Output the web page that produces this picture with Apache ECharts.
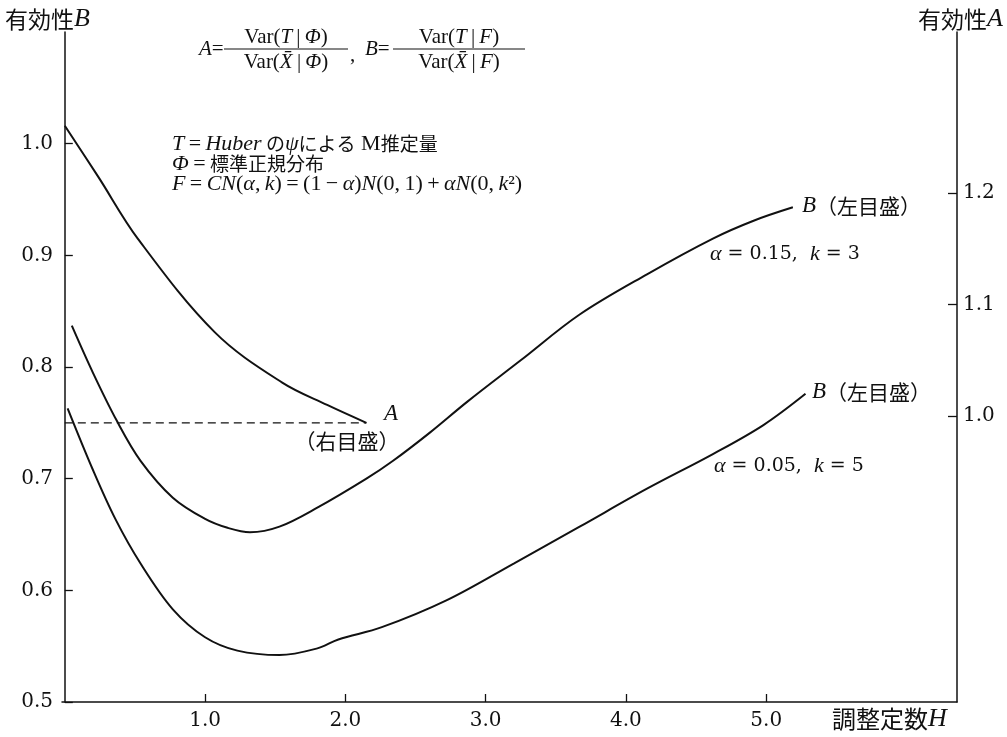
<!DOCTYPE html>
<html><head><meta charset="utf-8">
<script src="https://cdn.jsdelivr.net/npm/echarts@6/dist/echarts.min.js"></script>
<style>html,body{margin:0;padding:0;background:#fff}#c{width:1007px;height:737px}</style>
</head><body><div id="c"></div>
<script>
// ---- data ----
// Efficiency A (right scale): Huber M-estimator vs mean under standard normal
const hA   = [0, 0.24, 0.52, 1.07, 1.55, 1.87, 2.15];
const effA = [1.260, 1.214, 1.159, 1.075, 1.030, 1.010, 0.994];
// Efficiency B (left scale), alpha = 0.15, k = 3
const hB15   = [0.05, 0.20, 0.37, 0.54, 0.77, 1.0, 1.16, 1.32, 1.53, 1.80, 2.15, 2.34, 2.60, 2.87, 3.25, 3.67, 4.15, 4.62, 4.91, 5.19];
const effB15 = [0.837, 0.795, 0.752, 0.716, 0.683, 0.664, 0.656, 0.652, 0.657, 0.674, 0.700, 0.716, 0.741, 0.769, 0.806, 0.847, 0.883, 0.915, 0.931, 0.943];
// Efficiency B (left scale), alpha = 0.05, k = 5
const hB05   = [0.02, 0.20, 0.36, 0.54, 0.77, 1.0, 1.23, 1.53, 1.80, 1.95, 2.26, 2.72, 3.20, 3.67, 4.15, 4.62, 4.98, 5.28];
const effB05 = [0.763, 0.708, 0.664, 0.624, 0.583, 0.558, 0.546, 0.542, 0.548, 0.556, 0.567, 0.591, 0.624, 0.657, 0.691, 0.722, 0.748, 0.776];
// dashed reference line (left scale)
const refH = [0, 2.15];
const refB = [0.75, 0.75];
// tick labels
const xTicks = [1, 2, 3, 4, 5];
const leftTicks = [0.5, 0.6, 0.7, 0.8, 0.9, 1.0];
const rightTicks = [1.0, 1.1, 1.2];

const zip = (a, b) => a.map((v, i) => [v, b[i]]);
const SERIF = "'Liberation Serif','DejaVu Serif','Noto Sans CJK JP',serif";
const NUM = "'DejaVu Serif','Liberation Serif',serif";
const CJK = "'Noto Sans CJK JP','Liberation Serif',serif";
const INK = '#111';

const chart = echarts.init(document.getElementById('c'), null, {renderer: 'canvas'});

const axisLine = {show: true, lineStyle: {color: INK, width: 1.5}};
const tickStyle = {color: INK, width: 1.3};
const lbl = {color: INK, fontFamily: NUM, fontSize: 20};

function lineSeries(name, h, v, yIdx, extra) {
  return Object.assign({
    name, type: 'line', yAxisIndex: yIdx, data: zip(h, v),
    showSymbol: false, symbol: 'none', smooth: 0.35, silent: true,
    lineStyle: {color: INK, width: 2}
  }, extra || {});
}

function t(x, y, text, align) {
  return {type: 'text', x, y, style: {
    rich: R, text, align: align || 'left', verticalAlign: 'middle',
    fontFamily: SERIF, fontSize: 20, fill: INK
  }};
}
const st = (fam, size, italic) => ({fontFamily: fam, fontSize: size, fontStyle: italic ? 'italic' : 'normal', color: INK});
const R = {
  // definitions block
  i: st(SERIF, 22, true), n: st(SERIF, 22), c: st(CJK, 19),
  // formula
  fi: st(SERIF, 21, true), fn: st(SERIF, 21),
  // curve labels
  li: st(SERIF, 23, true), lc: st(CJK, 21),
  // alpha labels
  ai: st(SERIF, 22, true), an: st(NUM, 19),
  // axis titles
  big: st(CJK, 23), bi: st(SERIF, 26, true),
  xbig: st(CJK, 24), xi: st(SERIF, 26, true)
};

const graphics = [
  t(5, 19, '{big|有効性}{bi|B}'),
  t(1003, 19, '{big|有効性}{bi|A}', 'right'),
  // formula A = Var(T|Φ)/Var(X̄|Φ), B = Var(T|F)/Var(X̄|F)
  t(199, 49, '{fi|A}{fn|=}'),
  t(286, 37, '{fn|Var(}{fi|T}{fn|\u2009|\u2009}{fi|Φ}{fn|)}', 'center'),
  {type: 'line', shape: {x1: 224, y1: 49, x2: 348, y2: 49}, style: {stroke: INK, lineWidth: 1.2}},
  t(286, 62, '{fn|Var(}{fi|X\u0304}{fn|\u2009|\u2009}{fi|Φ}{fn|)}', 'center'),
  t(350, 55, '{fn|,}'),
  t(365, 49, '{fi|B}{fn|=}'),
  t(459, 37, '{fn|Var(}{fi|T}{fn|\u2009|\u2009}{fi|F}{fn|)}', 'center'),
  {type: 'line', shape: {x1: 393, y1: 49, x2: 525, y2: 49}, style: {stroke: INK, lineWidth: 1.2}},
  t(459, 62, '{fn|Var(}{fi|X\u0304}{fn|\u2009|\u2009}{fi|F}{fn|)}', 'center'),
  // definitions
  t(172, 144, '{i|T}{n|\u2009=\u2009}{i|Huber}{c| の}{i|ψ}{c|による}{n| M}{c|推定量}'),
  t(172, 164, '{i|Φ}{n|\u2009=\u2009}{c|標準正規分布}'),
  t(172, 184, '{i|F}{n|\u2009=\u2009}{i|CN}{n|(}{i|α}{n|,\u2009}{i|k}{n|)\u2009=\u2009(1\u2009−\u2009}{i|α}{n|)}{i|N}{n|(0,\u20091)\u2009+\u2009}{i|α}{i|N}{n|(0,\u2009}{i|k}{n|²)}'),
  // curve labels
  t(384, 414, '{li|A}'),
  t(347, 441, '{lc|（右目盛）}', 'center'),
  t(802, 206, '{li|B}{lc|（左目盛）}'),
  t(812, 392, '{li|B}{lc|（左目盛）}'),
  t(710, 254, '{ai|α}{an| = 0.15,  }{ai|k}{an| = 3}'),
  t(714, 466, '{ai|α}{an| = 0.05,  }{ai|k}{an| = 5}'),
  t(832, 719, '{xbig|調整定数}{xi|H}')
];

chart.setOption({
  animation: false,
  backgroundColor: '#fff',
  grid: {left: 62, right: 50, top: 32, bottom: 35, containLabel: false},
  xAxis: {
    type: 'value', min: -0.02, max: 6.36,
    axisLine, splitLine: {show: false},
    axisTick: {inside: true, length: 8, lineStyle: tickStyle, customValues: xTicks},
    axisLabel: Object.assign({}, lbl, {margin: 9, customValues: xTicks, formatter: v => v.toFixed(1)})
  },
  yAxis: [{
    type: 'value', position: 'left', min: 0.5, max: 1.1,
    axisLine, splitLine: {show: false},
    axisTick: {inside: true, length: 8, lineStyle: tickStyle, customValues: leftTicks},
    axisLabel: Object.assign({}, lbl, {margin: 9, customValues: leftTicks, formatter: v => v.toFixed(1)})
  }, {
    type: 'value', position: 'right', min: 0.744, max: 1.344,
    axisLine, splitLine: {show: false},
    axisTick: {inside: true, length: 9, lineStyle: tickStyle, customValues: rightTicks},
    axisLabel: Object.assign({}, lbl, {margin: 6, customValues: rightTicks, formatter: v => v.toFixed(1)})
  }],
  series: [
    lineSeries('A', hA, effA, 1),
    lineSeries('B α=0.15 k=3', hB15, effB15, 0),
    lineSeries('B α=0.05 k=5', hB05, effB05, 0),
    lineSeries('ref', refH, refB, 0, {smooth: false, lineStyle: {color: INK, width: 1.3, type: [8, 5]}})
  ],
  graphic: graphics
});
</script></body></html>
